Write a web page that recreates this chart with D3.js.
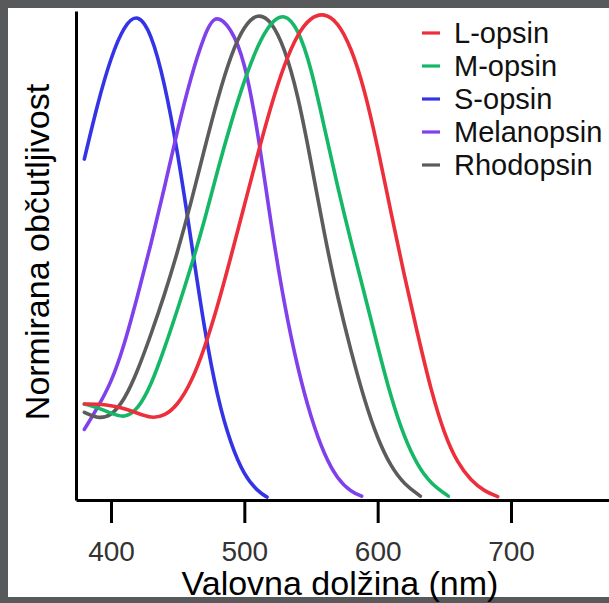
<!DOCTYPE html>
<html>
<head>
<meta charset="utf-8">
<script src="https://cdn.jsdelivr.net/npm/d3@7"></script>
<style>
html,body{margin:0;padding:0;background:#fff;}
svg{display:block;}
text{font-family:"Liberation Sans",Arial,sans-serif;}
</style>
</head>
<body>
<svg id="chart" width="609" height="603"></svg>
<script>
// ---- data ----
const seriesNames = ["L-opsin", "M-opsin", "S-opsin", "Melanopsin", "Rhodopsin"];
const seriesColors = ["#ec2f3b", "#14b866", "#3434e6", "#8040ec", "#5c5c5c"];

const lWave = [380,390,400,410,420,430,440,450,460,470,480,490,500,510,520,530,540,550,560,570,580,590,600,610,620,630,640,650,660,670,680,690];
const lVal  = [0.197,0.197,0.194,0.188,0.178,0.168,0.172,0.195,0.24,0.31,0.398,0.50,0.605,0.71,0.81,0.895,0.958,0.992,1.0,0.982,0.93,0.845,0.725,0.59,0.46,0.34,0.225,0.135,0.075,0.04,0.018,0.007];

const mWave = [380,390,400,410,420,430,440,450,460,470,480,490,500,510,520,530,540,550,560,570,580,590,600,610,620,630,640,653];
const mVal  = [0.197,0.19,0.178,0.168,0.185,0.235,0.31,0.392,0.478,0.572,0.678,0.775,0.862,0.934,0.982,1.0,0.97,0.89,0.765,0.642,0.53,0.425,0.315,0.21,0.128,0.07,0.033,0.008];

const sWave = [380,390,400,410,420,430,440,450,460,470,480,490,500,510,517];
const sVal  = [0.70,0.815,0.91,0.975,1.0,0.96,0.86,0.715,0.535,0.35,0.207,0.113,0.05,0.018,0.006];

const melWave = [380,390,400,410,420,430,440,450,460,470,478,490,500,510,520,530,540,550,560,570,580,588];
const melVal  = [0.145,0.19,0.24,0.318,0.42,0.525,0.64,0.762,0.87,0.955,1.0,0.97,0.905,0.76,0.565,0.40,0.27,0.168,0.092,0.042,0.017,0.008];

const rhoWave = [380,390,400,410,420,430,440,450,460,470,480,490,500,510,520,530,540,550,560,570,580,590,600,610,620,632];
const rhoVal  = [0.18,0.167,0.172,0.205,0.265,0.34,0.42,0.51,0.61,0.72,0.825,0.915,0.975,1.0,0.985,0.93,0.835,0.695,0.545,0.415,0.305,0.205,0.125,0.068,0.032,0.008];

const xTicks = [400, 500, 600, 700];
const xLabel = "Valovna dolžina (nm)";
const yLabel = "Normirana občutljivost";

const seriesData = [
  [lWave, lVal], [mWave, mVal], [sWave, sVal], [melWave, melVal], [rhoWave, rhoVal]
];

// ---- drawing ----
const svg = d3.select("#chart");
const W = 609, H = 603;

svg.append("rect").attr("x",0).attr("y",0).attr("width",W).attr("height",H).attr("fill","#58595b");
svg.append("rect").attr("x",8).attr("y",8).attr("width",W-8).attr("height",589).attr("fill","#ffffff");

const x = d3.scaleLinear().domain([373.75, 773.5]).range([76, 609]);
const y = d3.scaleLinear().domain([0, 1.0041]).range([500, 11]);

// curves
const line = d3.line()
  .x(d => x(d[0]))
  .y(d => y(d[1]))
  .curve(d3.curveBasis);

// draw order: S, Melanopsin, Rhodopsin, M, L  (L on top)
const order = [2, 3, 4, 1, 0];
order.forEach(i => {
  const [wv, vals] = seriesData[i];
  const pts = wv.map((w, k) => [w, vals[k]]);
  svg.append("path")
    .datum(pts)
    .attr("d", line)
    .attr("fill", "none")
    .attr("stroke", seriesColors[i])
    .attr("stroke-width", 3.6)
    .attr("stroke-linecap", "round")
    .attr("stroke-linejoin", "round");
});

// x axis
const xAxis = d3.axisBottom(x).tickValues(xTicks).tickSize(23).tickSizeOuter(0).tickPadding(18);
const gx = svg.append("g").attr("transform", "translate(0,500)").call(xAxis);
gx.select(".domain").attr("stroke", "#000").attr("stroke-width", 3);
gx.selectAll(".tick line").attr("stroke", "#000").attr("stroke-width", 3);
gx.selectAll(".tick text")
  .attr("font-size", 28)
  .attr("font-family", "'Liberation Sans', Arial, sans-serif")
  .attr("fill", "#333");

// y axis
const yAxis = d3.axisLeft(y).tickValues([]).tickSizeOuter(0);
const gy = svg.append("g").attr("transform", "translate(76,0)").call(yAxis);
gy.select(".domain").attr("stroke", "#000").attr("stroke-width", 3);

// axis titles
svg.append("text")
  .attr("x", 340).attr("y", 595)
  .attr("text-anchor", "middle")
  .attr("font-size", 34)
  .attr("fill", "#000")
  .text(xLabel);

svg.append("text")
  .attr("transform", "translate(49,252) rotate(-90)")
  .attr("text-anchor", "middle")
  .attr("font-size", 34)
  .attr("fill", "#000")
  .text(yLabel);

// legend
const legend = svg.append("g").attr("transform", "translate(422,33)");
seriesNames.forEach((name, i) => {
  const g = legend.append("g").attr("transform", `translate(0,${i * 33})`);
  g.append("line").attr("x1", 0).attr("x2", 18).attr("y1", 0).attr("y2", 0)
    .attr("stroke", seriesColors[i]).attr("stroke-width", 3.2);
  g.append("text").attr("x", 32).attr("y", 10)
    .attr("font-size", 29).attr("fill", "#111").text(name);
});
</script>
</body>
</html>
